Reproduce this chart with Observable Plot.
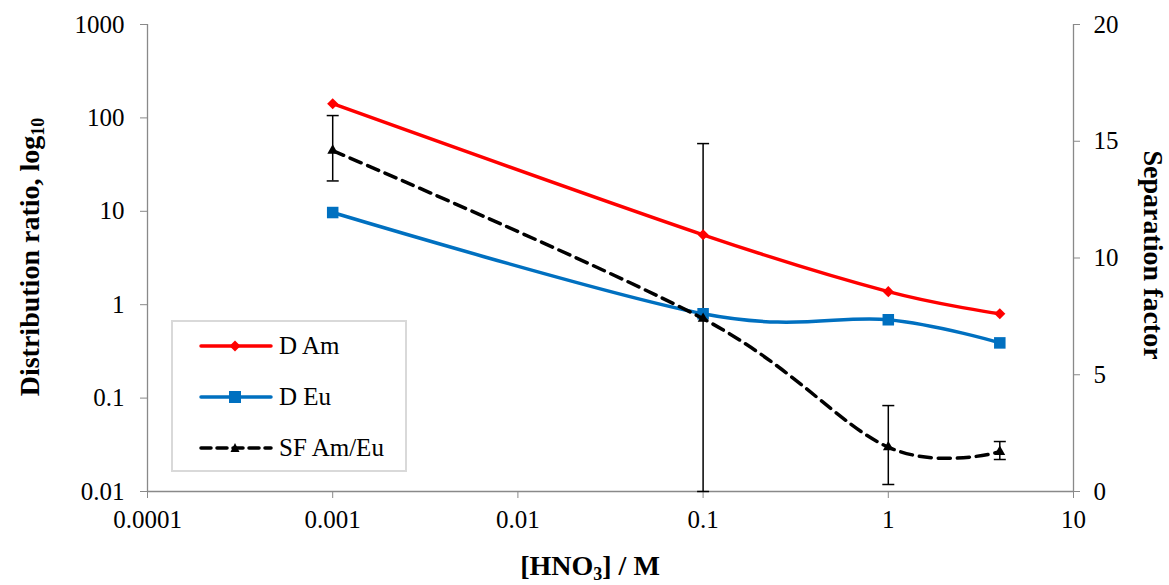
<!DOCTYPE html>
<html>
<head>
<meta charset="utf-8">
<script src="https://cdn.jsdelivr.net/npm/d3@7"></script>
<script src="https://cdn.jsdelivr.net/npm/@observablehq/plot@0.6"></script>
<style>
  html, body { margin: 0; padding: 0; background: white; }
  #wrap { position: relative; width: 1169px; height: 585px; font-family: "Liberation Serif", "Times New Roman", serif; }
  .title { position: absolute; font-weight: bold; font-size: 28px; white-space: nowrap; color: black; line-height: 1; }
  .title sub { font-size: 18px; vertical-align: -5px; line-height: 0; }
  #legend { position: absolute; left: 171px; top: 320px; width: 232px; height: 148px; border: 2px solid #d9d9d9; background: white; font-size: 25px; }
  .entry { position: absolute; left: 26px; display: flex; align-items: center; }
  .entry svg { margin-right: 6px; }
</style>
</head>
<body>
<div id="wrap">
  <div id="chart"></div>
  <div class="title" id="xt" style="left:590px; top:552px; transform:translate(-50%,0);">[HNO<sub>3</sub>] / M</div>
  <div class="title" id="yl" style="left:30px; top:257px; transform:translate(-50%,-50%) rotate(-90deg);">Distribution ratio, log<sub>10</sub></div>
  <div class="title" id="yr" style="left:1153px; top:255px; transform:translate(-50%,-50%) rotate(90deg);">Separation factor</div>
  <div id="legend"></div>
</div>
<script>
// ---- data ----
const hno3 = [0.001, 0.1, 1, 4];
const dAm = [142, 5.6, 1.38, 0.80];
const dEu = [9.7, 0.80, 0.69, 0.39];
const sfAmEu = [14.6, 7.4, 1.9, 1.7];
const sfLow = [13.3, 0, 0.3, 1.37];
const sfHigh = [16.1, 14.9, 3.68, 2.14];

const xTicks = [0.0001, 0.001, 0.01, 0.1, 1, 10];
const xTickLabels = ["0.0001", "0.001", "0.01", "0.1", "1", "10"];
const yTicks = [0.01, 0.1, 1, 10, 100, 1000];
const yTickLabels = ["0.01", "0.1", "1", "10", "100", "1000"];
const sfTicks = [0, 5, 10, 15, 20];
const sfTickLabels = ["0", "5", "10", "15", "20"];

const seriesNames = ["D Am", "D Eu", "SF Am/Eu"];
const colors = ["#FF0000", "#0070C0", "#000000"];

// map separation factor (0..20, linear) onto the log distribution-ratio scale (0.01..1000)
const sfToY = s => Math.pow(10, -2 + 5 * s / 20);

const amData = hno3.map((x, i) => ({x, y: dAm[i]}));
const euData = hno3.map((x, i) => ({x, y: dEu[i]}));
const sfData = hno3.map((x, i) => ({x, y: sfToY(sfAmEu[i]), lo: sfToY(sfLow[i]), hi: sfToY(sfHigh[i])}));
const sfRightTicks = sfTicks.map(sfToY);
const sfRightLabels = sfTicks.map((s, i) => ({x: 10, y: sfToY(s), label: sfTickLabels[i]}));

const nearestIndex = (arr, v) => {
  let best = 0, bd = Infinity;
  arr.forEach((t, i) => { const d = Math.abs(Math.log10(t) - Math.log10(v)); if (d < bd) { bd = d; best = i; } });
  return best;
};

const cap = {draw(context, size) { const w = Math.sqrt(size / Math.PI); context.moveTo(-w, 0); context.lineTo(w, 0); }};
const axisGray = "#898989";

const chart = Plot.plot({
  width: 1169,
  height: 585,
  marginLeft: 147,
  marginRight: 96,
  marginTop: 24,
  marginBottom: 94,
  style: {fontFamily: "'Liberation Serif', 'Times New Roman', serif", fontSize: "25px", color: "black", background: "white"},
  x: {type: "log", domain: [0.0001, 10]},
  y: {type: "log", domain: [0.01, 1000]},
  marks: [
    Plot.ruleY([0.01], {stroke: axisGray, strokeWidth: 1.3}),
    Plot.ruleX([0.0001], {stroke: axisGray, strokeWidth: 1.3}),
    Plot.ruleX([10], {stroke: axisGray, strokeWidth: 1.3}),
    Plot.axisX(xTicks, {tickFormat: d => xTickLabels[nearestIndex(xTicks, d)], tickSize: 7, tickPadding: 12, stroke: axisGray, label: null, fontSize: 25}),
    Plot.axisY(yTicks, {anchor: "left", tickFormat: d => yTickLabels[nearestIndex(yTicks, d)], tickSize: 7, tickPadding: 16, stroke: axisGray, label: null, fontSize: 25}),
    Plot.axisY(sfRightTicks, {anchor: "right", tickFormat: () => "", tickSize: 6, tickPadding: 14, stroke: axisGray, label: null}),
    Plot.text(sfRightLabels, {x: "x", y: "y", text: "label", dx: 20, textAnchor: "start", fontSize: 25, fill: "black"}),
    // error bars for SF
    Plot.ruleX(sfData, {x: "x", y1: "lo", y2: "hi", stroke: "black", strokeWidth: 1.5}),
    Plot.dot(sfData, {x: "x", y: "lo", symbol: cap, r: 6, stroke: "black", strokeWidth: 1.5}),
    Plot.dot(sfData, {x: "x", y: "hi", symbol: cap, r: 6, stroke: "black", strokeWidth: 1.5}),
    // lines
    Plot.line(amData, {x: "x", y: "y", stroke: colors[0], strokeWidth: 3.5, curve: "cardinal"}),
    Plot.dot(amData, {x: "x", y: "y", symbol: "diamond2", r: 5, fill: colors[0], stroke: "none"}),
    Plot.line(euData, {x: "x", y: "y", stroke: colors[1], strokeWidth: 3.5, curve: "cardinal"}),
    Plot.dot(euData, {x: "x", y: "y", symbol: "square", r: 6.5, fill: colors[1], stroke: "none"}),
    Plot.line(sfData, {x: "x", y: "y", stroke: colors[2], strokeWidth: 3.5, strokeDasharray: "12 7", curve: "cardinal"}),
    Plot.dot(sfData, {x: "x", y: "y", symbol: "triangle", r: 4, fill: colors[2], stroke: "none"})
  ]
});
document.getElementById("chart").appendChild(chart);

// legend
const legend = document.getElementById("legend");
const markers = [
  '<path d="M36,1.5 L41.5,7 L36,12.5 L30.5,7 Z" fill="#FF0000"/>',
  '<rect x="30" y="1" width="12" height="12" fill="#0070C0"/>',
  '<path d="M36,2 L40.5,11 L31.5,11 Z" fill="#000000"/>'
];
seriesNames.forEach((name, i) => {
  const e = document.createElement("div");
  e.className = "entry";
  e.style.top = (10 + i * 51) + "px";
  const dash = i === 2 ? ' stroke-dasharray="10 6"' : '';
  e.innerHTML = `<svg width="74" height="14"><line x1="2" y1="7" x2="72" y2="7" stroke="${colors[i]}" stroke-width="3.5" stroke-linecap="round"${dash}/>${markers[i]}</svg><span>${name}</span>`;
  legend.appendChild(e);
});
</script>
</body>
</html>
